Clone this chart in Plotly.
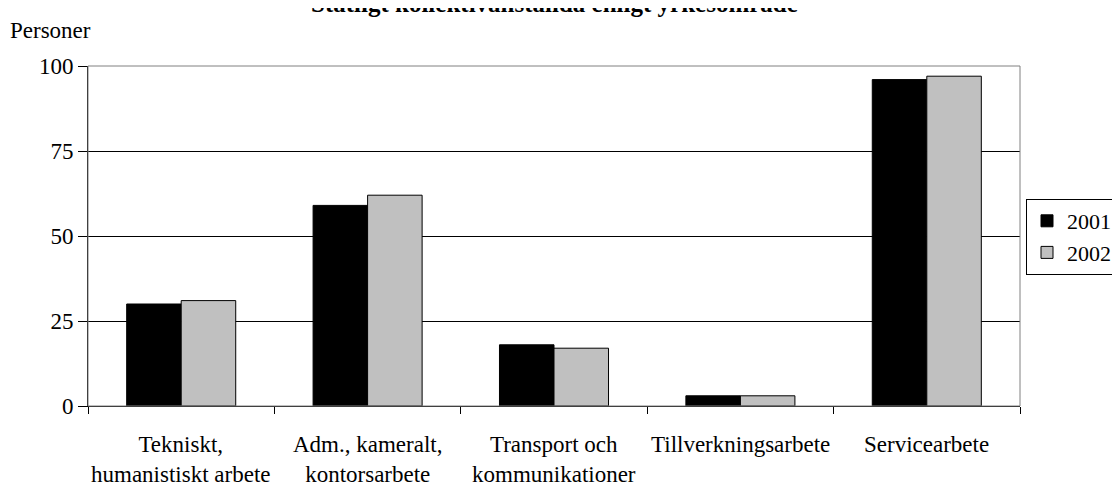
import plotly.graph_objects as go

categories = ["Tekniskt,<br>humanistiskt arbete", "Adm., kameralt,<br>kontorsarbete",
              "Transport och<br>kommunikationer", "Tillverkningsarbete", "Servicearbete"]
cat_keys = ["Tekniskt", "Adm", "Transport", "Tillverkning", "Service"]
values_2001 = [30, 59, 18, 3, 96]
values_2002 = [31, 62, 17, 3, 97]
y_ticks = [0, 25, 50, 75, 100]
title_text = "Statligt kollektivanställda enligt yrkesområde"
y_title = "Personer"

FONT = "Liberation Serif, Times New Roman, serif"
OFF = 8  # page body margin
W, H = 1120 - OFF, 486 - OFF
PL, PT, PW, PH = 88 - OFF, 66 - OFF, 932, 340


def px_x(x):
    return (x - OFF - PL) / PW


def px_y(y):
    return (PT + PH - (y - OFF)) / PH


fig = go.Figure()
fig.add_trace(go.Bar(x=cat_keys, y=values_2001, name="2001",
                     marker=dict(color="#000000", line=dict(color="#000000", width=1))))
fig.add_trace(go.Bar(x=cat_keys, y=values_2002, name="2002",
                     marker=dict(color="#C0C0C0", line=dict(color="#000000", width=1))))

annotations = []
for key, lab in zip(cat_keys, categories):
    annotations.append(dict(x=key, xref="x", y=0, yref="paper", yanchor="top",
                            yshift=-24, text=lab, showarrow=False,
                            font=dict(family=FONT, size=23, color="#000"), align="center"))
annotations.append(dict(x=0.5, xref="paper", y=px_y(4), yref="paper", yanchor="middle",
                        text="<b>" + title_text + "</b>", showarrow=False,
                        font=dict(family=FONT, size=25, color="#000")))
annotations.append(dict(x=px_x(8), xref="paper", y=px_y(31), yref="paper",
                        xanchor="left", yanchor="middle", text=y_title, showarrow=False,
                        font=dict(family=FONT, size=23, color="#000")))

fig.update_layout(
    width=W, height=H,
    margin=dict(l=PL, r=W - PL - PW, t=PT, b=H - PT - PH, autoexpand=False),
    paper_bgcolor="white", plot_bgcolor="white",
    barmode="group", bargap=0.415, bargroupgap=0,
    font=dict(family=FONT, size=23, color="#000"),
    showlegend=True,
    legend=dict(x=px_x(1026), y=px_y(199), xanchor="left", yanchor="top",
                bordercolor="#000", borderwidth=1, bgcolor="white",
                font=dict(family=FONT, size=22, color="#000")),
    annotations=annotations,
    shapes=[dict(type="rect", xref="paper", yref="paper", x0=0, x1=1, y0=0, y1=1,
                 line=dict(color="#808080", width=1), layer="above")],
)
fig.update_xaxes(showticklabels=False, tickson="boundaries", ticks="outside", ticklen=7,
                 tickcolor="#000", showline=True, linecolor="#000", linewidth=1,
                 showgrid=False, zeroline=False, automargin=False)
fig.update_yaxes(range=[0, 100], tickvals=y_ticks, ticks="outside", ticklen=9,
                 tickcolor="#000", showline=True, linecolor="#000", linewidth=1,
                 showgrid=True, gridcolor="#000", gridwidth=1, zeroline=False,
                 automargin=False, tickfont=dict(family=FONT, size=23, color="#000"))

fig.write_html("out.html")
